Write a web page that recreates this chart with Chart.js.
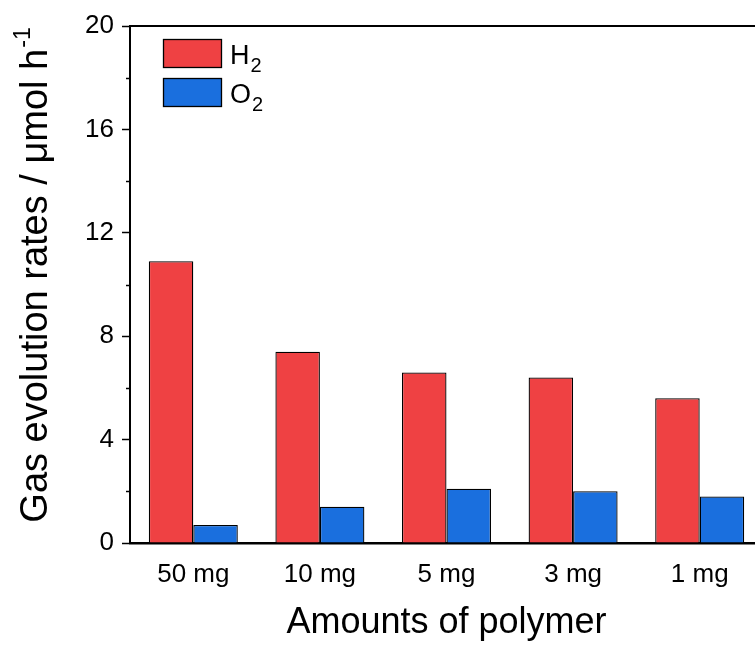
<!DOCTYPE html>
<html>
<head>
<meta charset="utf-8">
<script src="https://cdn.jsdelivr.net/npm/chart.js@4.4.1/dist/chart.umd.min.js"></script>
<style>
  html, body { margin: 0; padding: 0; background: #fff; overflow: hidden; }
  #wrap { width: 763px; height: 645px; position: relative; }
</style>
</head>
<body>
<div id="wrap"><canvas id="chart"></canvas></div>
<script>
// Photocatalytic gas evolution for different polymer loadings
const categories = ['50 mg', '10 mg', '5 mg', '3 mg', '1 mg'];
const h2Rates = [10.9, 7.4, 6.6, 6.4, 5.6];
const o2Rates = [0.7, 1.4, 2.1, 2.0, 1.8];
const yMajorTicks = [0, 4, 8, 12, 16, 20];
const yMinorTicks = [2, 6, 10, 14, 18];

const FONT = '"Liberation Sans", Arial, sans-serif';

// Axis frame, minor ticks, rotated y title with superscript and inset legend
const decorations = {
  id: 'decorations',
  afterDraw(chart) {
    const ctx = chart.ctx;
    const area = chart.chartArea;
    const y = chart.scales.y;
    ctx.save();

    // top frame line
    ctx.strokeStyle = '#000';
    ctx.lineWidth = 2;
    ctx.beginPath();
    ctx.moveTo(area.left - 1, area.top);
    ctx.lineTo(area.right, area.top);
    ctx.stroke();

    // minor ticks on the y axis
    ctx.lineWidth = 1.5;
    yMinorTicks.forEach(v => {
      const py = Math.round(y.getPixelForValue(v)) + 0.5;
      ctx.beginPath();
      ctx.moveTo(area.left - 4, py);
      ctx.lineTo(area.left, py);
      ctx.stroke();
    });

    // y axis title
    ctx.fillStyle = '#000';
    ctx.translate(47, (area.top + area.bottom) / 2 - 9);
    ctx.rotate(-Math.PI / 2);
    const main = 'Gas evolution rates / \u03bcmol h';
    const sup = '-1';
    ctx.font = '38px ' + FONT;
    const wMain = ctx.measureText(main).width;
    ctx.font = '23px ' + FONT;
    const wSup = ctx.measureText(sup).width;
    const x0 = -(wMain + wSup) / 2;
    ctx.textBaseline = 'alphabetic';
    ctx.textAlign = 'left';
    ctx.font = '38px ' + FONT;
    ctx.fillText(main, x0, 0);
    ctx.font = '23px ' + FONT;
    ctx.fillText(sup, x0 + wMain + 1, -17);
    ctx.setTransform(1, 0, 0, 1, 0, 0);

    // legend inside the plot area
    const boxW = 59, boxH = 29, gap = 10;
    let ly = area.top + 13;
    const lx = area.left + 33;
    chart.data.datasets.forEach(ds => {
      ctx.fillStyle = ds.backgroundColor;
      ctx.fillRect(lx, ly, boxW, boxH);
      ctx.strokeStyle = '#000';
      ctx.lineWidth = 1.3;
      ctx.strokeRect(lx + 0.5, ly + 0.5, boxW - 1, boxH - 1);
      ctx.fillStyle = '#000';
      ctx.font = '27px ' + FONT;
      ctx.textBaseline = 'alphabetic';
      const base = ds.label.charAt(0);
      const sub = ds.label.slice(1);
      const ty = ly + boxH - 4;
      ctx.fillText(base, lx + boxW + 8, ty);
      const bw = ctx.measureText(base).width;
      ctx.font = '20px ' + FONT;
      ctx.fillText(sub, lx + boxW + 8 + bw + 1, ty + 8);
      ly += boxH + gap;
    });
    ctx.restore();
  }
};

new Chart(document.getElementById('chart'), {
  type: 'bar',
  data: {
    labels: categories,
    datasets: [
      { label: 'H2', data: h2Rates, backgroundColor: '#EF4143', borderColor: '#000', borderWidth: 1.3 },
      { label: 'O2', data: o2Rates, backgroundColor: '#1A6FDE', borderColor: '#000', borderWidth: 1.3 }
    ]
  },
  options: {
    responsive: true,
    maintainAspectRatio: false,
    animation: false,
    layout: { padding: { top: 26, left: 0, right: 0, bottom: 0 } },
    datasets: { bar: { barPercentage: 1.0, categoryPercentage: 0.703 } },
    plugins: { legend: { display: false }, tooltip: { enabled: false } },
    scales: {
      x: {
        grid: { display: false, drawTicks: false },
        border: { display: true, color: '#000', width: 2.5 },
        ticks: { color: '#000', font: { family: FONT, size: 26 }, padding: 16, maxRotation: 0 },
        title: { display: true, text: 'Amounts of polymer', color: '#000', font: { family: FONT, size: 36 }, padding: { top: 4, bottom: 0 } },
        afterFit(scale) { scale.height = 102; }
      },
      y: {
        min: 0,
        max: 20,
        afterBuildTicks(scale) { scale.ticks = yMajorTicks.map(v => ({ value: v })); },
        grid: { drawOnChartArea: false, drawTicks: true, tickLength: 8, tickWidth: 1.5, tickColor: '#000' },
        border: { display: true, color: '#000', width: 2 },
        ticks: { color: '#000', font: { family: FONT, size: 26 }, padding: 8 },
        afterFit(scale) { scale.width = 130; }
      }
    }
  },
  plugins: [decorations]
});
</script>
</body>
</html>
